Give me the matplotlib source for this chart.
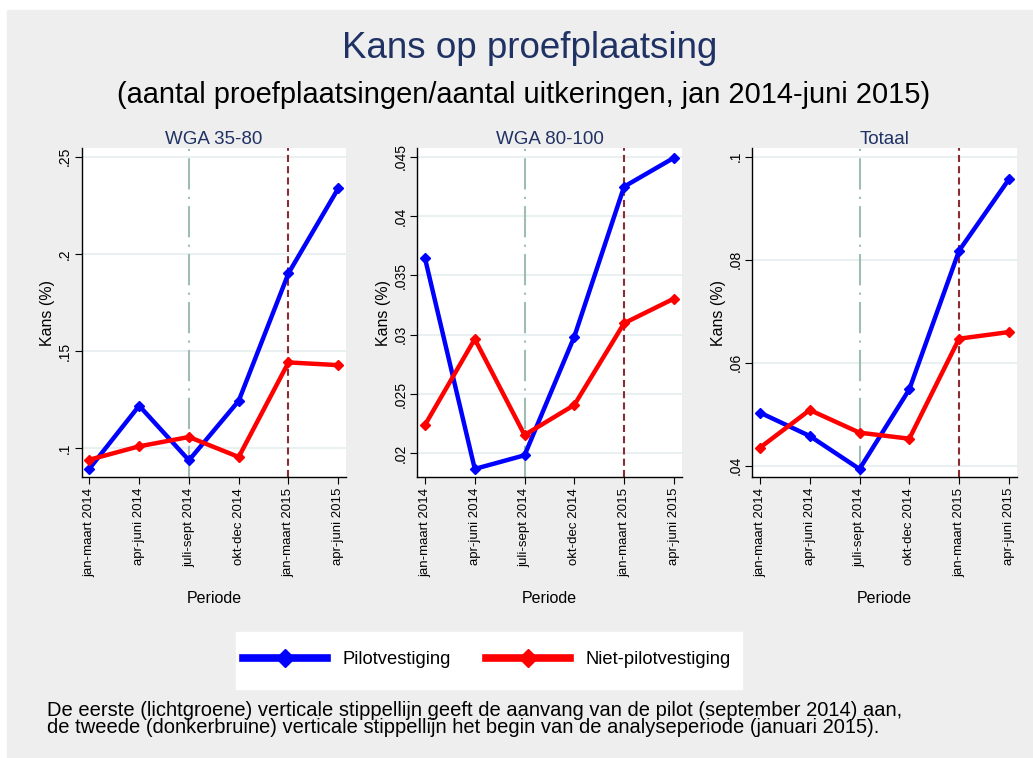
"""
Kans op proefplaatsing per periode, drie panelen (WGA 35-80, WGA 80-100, Totaal).
"""
import matplotlib
matplotlib.use("Agg")
from matplotlib import pyplot as plt
from matplotlib.lines import Line2D
from matplotlib.patches import Rectangle
from matplotlib.ticker import FuncFormatter

plt.rcParams["font.family"] = ["Liberation Sans", "DejaVu Sans"]

periods = ["jan-maart 2014", "apr-juni 2014", "juli-sept 2014",
           "okt-dec 2014", "jan-maart 2015", "apr-juni 2015"]

panel_titles = ["WGA 35-80", "WGA 80-100", "Totaal"]

pilot_wga3580 = [0.0894, 0.1218, 0.0937, 0.1243, 0.1900, 0.2337]
niet_wga3580 = [0.0940, 0.1009, 0.1057, 0.0954, 0.1441, 0.1427]

pilot_wga80100 = [0.03643, 0.01868, 0.01983, 0.02983, 0.04247, 0.0449]
niet_wga80100 = [0.02239, 0.02963, 0.02154, 0.02407, 0.03096, 0.03303]

pilot_totaal = [0.0503, 0.04576, 0.03935, 0.05482, 0.08175, 0.0956]
niet_totaal = [0.0435, 0.05081, 0.04641, 0.04524, 0.06466, 0.06595]

yticks = [[0.1, 0.15, 0.2, 0.25],
          [0.02, 0.025, 0.03, 0.035, 0.04, 0.045],
          [0.04, 0.06, 0.08, 0.1]]
ylims = [(0.0851, 0.2545), (0.0180, 0.04573), (0.0378, 0.1017)]

pilot_start = 2   # juli-sept 2014
analysis_start = 4  # jan-maart 2015

BG = "#eeeeee"
NAVY = "#1f3263"
W, H = 1033, 758


def stata_fmt(v, pos):
    s = f"{v:.3f}".rstrip("0").rstrip(".")
    if s.startswith("0."):
        s = s[1:]
    return s


def main():
    fig = plt.figure(figsize=(W / 100, H / 100), dpi=100)
    fig.patch.set_facecolor("white")
    fig.add_artist(Rectangle((7 / W, 0), 1, 748 / H,
                             transform=fig.transFigure, color=BG, zorder=-10))

    fig.text(530 / W, 1 - 49 / H, "Kans op proefplaatsing", ha="center",
             va="center", fontsize=26.5, color=NAVY)
    fig.text(523.5 / W, 1 - 95 / H,
             "(aantal proefplaatsingen/aantal uitkeringen, jan 2014-juni 2015)",
             ha="center", va="center", fontsize=20.9, color="black")

    lefts = [81.7, 417.3, 752.3]
    series = [(pilot_wga3580, niet_wga3580),
              (pilot_wga80100, niet_wga80100),
              (pilot_totaal, niet_totaal)]
    x = list(range(len(periods)))

    for i, left in enumerate(lefts):
        ax = fig.add_axes([left / W, (H - 477) / H, 264.5 / W, 329 / H])
        ax.set_facecolor("white")
        pilot, niet = series[i]

        for t in yticks[i]:
            ax.axhline(t, color="#e4edef", lw=1.2, zorder=0)
        ax.axvline(pilot_start, color="#9fbdb0", lw=1.5,
                   dashes=(15, 3.5, 1, 3.5), zorder=1)
        ax.axvline(analysis_start, color="#8b2c32", lw=1.5,
                   dashes=(3.4, 2.0), zorder=1)

        ax.plot(x, pilot, color="#0000ff", lw=3.2, marker="D", ms=5.5, zorder=3)
        ax.plot(x, niet, color="#ff0000", lw=3.2, marker="D", ms=5.5, zorder=3)

        ax.set_xlim(-0.155, 5.16)
        ax.set_ylim(*ylims[i])
        ax.set_yticks(yticks[i])
        ax.yaxis.set_major_formatter(FuncFormatter(stata_fmt))
        ax.set_xticks(x)
        ax.set_xticklabels(periods, rotation=90, fontsize=9.5)
        for lab in ax.get_yticklabels():
            lab.set_rotation(90)
            lab.set_va("center")
            lab.set_fontsize(10)
        ax.tick_params(axis="x", direction="out", length=5, width=0.8, pad=3)
        ax.tick_params(axis="y", direction="out", length=5, width=0.8, pad=2)
        for side in ("top", "right"):
            ax.spines[side].set_visible(False)
        for side in ("left", "bottom"):
            ax.spines[side].set_linewidth(1.0)

        ax.set_title(panel_titles[i], fontsize=13.5, color=NAVY, pad=3)
        ax.set_ylabel("Kans (%)", fontsize=11.5, labelpad=2)
        ax.set_xlabel("Periode", fontsize=11.5, labelpad=10)

    # legend: white box plus entries
    fig.add_artist(Rectangle((236 / W, 1 - 689 / H), 506 / W, 57 / H,
                             transform=fig.transFigure, color="white",
                             zorder=-5))
    handles = [Line2D([], [], color="#0000ff", lw=5.5, marker="D", ms=9),
               Line2D([], [], color="#ff0000", lw=5.5, marker="D", ms=9)]
    fig.legend(handles, ["Pilotvestiging", "Niet-pilotvestiging"],
               loc="center", bbox_to_anchor=(487 / W, 1 - 660 / H),
               ncol=2, fontsize=13.2, frameon=False, borderpad=0,
               handlelength=4.6, handletextpad=0.85, columnspacing=1.9)

    fig.text(47 / W, 1 - 719 / H,
             "De eerste (lichtgroene) verticale stippellijn geeft de aanvang van de pilot (september 2014) aan,\n"
             "de tweede (donkerbruine) verticale stippellijn het begin van de analyseperiode (januari 2015).",
             ha="left", va="center", fontsize=14.5, linespacing=0.86)

    fig.savefig("out.png", dpi=100, facecolor=fig.get_facecolor())


if __name__ == "__main__":
    main()
